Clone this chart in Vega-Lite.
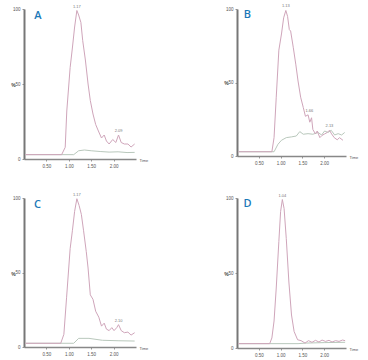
{
  "$schema": "https://vega.github.io/schema/vega-lite/v6.json",
  "background": "white",
  "padding": {"left": 10, "top": 4, "right": 5, "bottom": 2},
  "data": {"values": [
      {"p":"A","s":"m","t":0.03,"v":2.9},{"p":"A","s":"m","t":0.84,"v":2.9},{"p":"A","s":"m","t":0.92,"v":7.8},{"p":"A","s":"m","t":0.955,"v":32},{"p":"A","s":"m","t":1.03,"v":61},{"p":"A","s":"m","t":1.08,"v":74},{"p":"A","s":"m","t":1.13,"v":88},{"p":"A","s":"m","t":1.18,"v":99},{"p":"A","s":"m","t":1.22,"v":96},{"p":"A","s":"m","t":1.27,"v":91},{"p":"A","s":"m","t":1.31,"v":79},{"p":"A","s":"m","t":1.37,"v":66},{"p":"A","s":"m","t":1.43,"v":50},{"p":"A","s":"m","t":1.48,"v":39},{"p":"A","s":"m","t":1.54,"v":30},{"p":"A","s":"m","t":1.60,"v":23},{"p":"A","s":"m","t":1.67,"v":18},{"p":"A","s":"m","t":1.73,"v":14},{"p":"A","s":"m","t":1.79,"v":16},{"p":"A","s":"m","t":1.84,"v":12},{"p":"A","s":"m","t":1.90,"v":10},{"p":"A","s":"m","t":1.98,"v":13},{"p":"A","s":"m","t":2.05,"v":11},{"p":"A","s":"m","t":2.11,"v":16},{"p":"A","s":"m","t":2.17,"v":11},{"p":"A","s":"m","t":2.24,"v":10},{"p":"A","s":"m","t":2.32,"v":10},{"p":"A","s":"m","t":2.39,"v":8},{"p":"A","s":"m","t":2.47,"v":10},
      {"p":"A","s":"s","t":0.03,"v":2.9},{"p":"A","s":"s","t":1.11,"v":2.9},{"p":"A","s":"s","t":1.22,"v":5.5},{"p":"A","s":"s","t":1.35,"v":6},{"p":"A","s":"s","t":1.5,"v":5.5},{"p":"A","s":"s","t":1.7,"v":5},{"p":"A","s":"s","t":1.9,"v":4.6},{"p":"A","s":"s","t":2.1,"v":4.8},{"p":"A","s":"s","t":2.3,"v":4.3},{"p":"A","s":"s","t":2.47,"v":4.4},
      {"p":"B","s":"m","t":0.03,"v":2.9},{"p":"B","s":"m","t":0.80,"v":2.9},{"p":"B","s":"m","t":0.85,"v":12.5},{"p":"B","s":"m","t":0.90,"v":40},{"p":"B","s":"m","t":0.96,"v":72},{"p":"B","s":"m","t":1.02,"v":83},{"p":"B","s":"m","t":1.07,"v":94},{"p":"B","s":"m","t":1.12,"v":99},{"p":"B","s":"m","t":1.16,"v":95},{"p":"B","s":"m","t":1.20,"v":86},{"p":"B","s":"m","t":1.23,"v":85},{"p":"B","s":"m","t":1.29,"v":74},{"p":"B","s":"m","t":1.35,"v":62},{"p":"B","s":"m","t":1.40,"v":51},{"p":"B","s":"m","t":1.46,"v":40},{"p":"B","s":"m","t":1.52,"v":33},{"p":"B","s":"m","t":1.57,"v":27},{"p":"B","s":"m","t":1.63,"v":28},{"p":"B","s":"m","t":1.67,"v":23},{"p":"B","s":"m","t":1.71,"v":26},{"p":"B","s":"m","t":1.74,"v":18},{"p":"B","s":"m","t":1.80,"v":15},{"p":"B","s":"m","t":1.84,"v":17},{"p":"B","s":"m","t":1.90,"v":12.5},{"p":"B","s":"m","t":1.95,"v":14},{"p":"B","s":"m","t":2.01,"v":15},{"p":"B","s":"m","t":2.07,"v":16},{"p":"B","s":"m","t":2.12,"v":17.5},{"p":"B","s":"m","t":2.17,"v":15},{"p":"B","s":"m","t":2.23,"v":12.5},{"p":"B","s":"m","t":2.30,"v":11},{"p":"B","s":"m","t":2.35,"v":12.5},{"p":"B","s":"m","t":2.43,"v":10.7},
      {"p":"B","s":"s","t":0.03,"v":2.9},{"p":"B","s":"s","t":0.85,"v":2.9},{"p":"B","s":"s","t":0.94,"v":8},{"p":"B","s":"s","t":1.02,"v":10.7},{"p":"B","s":"s","t":1.13,"v":12.5},{"p":"B","s":"s","t":1.25,"v":13},{"p":"B","s":"s","t":1.36,"v":13.6},{"p":"B","s":"s","t":1.44,"v":16.6},{"p":"B","s":"s","t":1.52,"v":14.8},{"p":"B","s":"s","t":1.63,"v":15.2},{"p":"B","s":"s","t":1.74,"v":14.8},{"p":"B","s":"s","t":1.86,"v":16},{"p":"B","s":"s","t":1.94,"v":14.3},{"p":"B","s":"s","t":2.01,"v":17},{"p":"B","s":"s","t":2.09,"v":16},{"p":"B","s":"s","t":2.16,"v":17.5},{"p":"B","s":"s","t":2.24,"v":14.3},{"p":"B","s":"s","t":2.32,"v":15.2},{"p":"B","s":"s","t":2.40,"v":14.3},{"p":"B","s":"s","t":2.47,"v":16},
      {"p":"C","s":"m","t":0.03,"v":2.5},{"p":"C","s":"m","t":0.82,"v":2.5},{"p":"C","s":"m","t":0.89,"v":8.5},{"p":"C","s":"m","t":0.95,"v":33},{"p":"C","s":"m","t":1.03,"v":66},{"p":"C","s":"m","t":1.08,"v":78},{"p":"C","s":"m","t":1.13,"v":91},{"p":"C","s":"m","t":1.18,"v":99.5},{"p":"C","s":"m","t":1.23,"v":95},{"p":"C","s":"m","t":1.28,"v":89},{"p":"C","s":"m","t":1.33,"v":78},{"p":"C","s":"m","t":1.39,"v":64},{"p":"C","s":"m","t":1.43,"v":53},{"p":"C","s":"m","t":1.48,"v":35},{"p":"C","s":"m","t":1.54,"v":32},{"p":"C","s":"m","t":1.60,"v":24},{"p":"C","s":"m","t":1.67,"v":20},{"p":"C","s":"m","t":1.73,"v":14},{"p":"C","s":"m","t":1.79,"v":16},{"p":"C","s":"m","t":1.84,"v":12},{"p":"C","s":"m","t":1.90,"v":11},{"p":"C","s":"m","t":1.96,"v":13},{"p":"C","s":"m","t":2.01,"v":11},{"p":"C","s":"m","t":2.07,"v":13},{"p":"C","s":"m","t":2.11,"v":15},{"p":"C","s":"m","t":2.17,"v":11},{"p":"C","s":"m","t":2.24,"v":9.6},{"p":"C","s":"m","t":2.32,"v":10},{"p":"C","s":"m","t":2.39,"v":8},{"p":"C","s":"m","t":2.47,"v":9.6},
      {"p":"C","s":"s","t":0.03,"v":2.5},{"p":"C","s":"s","t":1.11,"v":2.5},{"p":"C","s":"s","t":1.22,"v":5.8},{"p":"C","s":"s","t":1.45,"v":5.8},{"p":"C","s":"s","t":1.75,"v":4.5},{"p":"C","s":"s","t":2.1,"v":4.2},{"p":"C","s":"s","t":2.47,"v":4},
      {"p":"D","s":"m","t":0.03,"v":2.9},{"p":"D","s":"m","t":0.75,"v":2.9},{"p":"D","s":"m","t":0.80,"v":6.7},{"p":"D","s":"m","t":0.85,"v":18},{"p":"D","s":"m","t":0.90,"v":40},{"p":"D","s":"m","t":0.96,"v":71},{"p":"D","s":"m","t":1.00,"v":91},{"p":"D","s":"m","t":1.04,"v":99},{"p":"D","s":"m","t":1.08,"v":93},{"p":"D","s":"m","t":1.13,"v":73},{"p":"D","s":"m","t":1.19,"v":44},{"p":"D","s":"m","t":1.25,"v":22},{"p":"D","s":"m","t":1.31,"v":11},{"p":"D","s":"m","t":1.39,"v":5.5},{"p":"D","s":"m","t":1.47,"v":4.9},{"p":"D","s":"m","t":1.56,"v":3.3},{"p":"D","s":"m","t":1.64,"v":4.9},{"p":"D","s":"m","t":1.72,"v":3.8},{"p":"D","s":"m","t":1.80,"v":5.1},{"p":"D","s":"m","t":1.88,"v":4},{"p":"D","s":"m","t":1.95,"v":5.3},{"p":"D","s":"m","t":2.03,"v":4.4},{"p":"D","s":"m","t":2.11,"v":5.1},{"p":"D","s":"m","t":2.18,"v":4},{"p":"D","s":"m","t":2.26,"v":4.9},{"p":"D","s":"m","t":2.34,"v":4.4},{"p":"D","s":"m","t":2.42,"v":5.3},{"p":"D","s":"m","t":2.48,"v":4.9},
      {"p":"D","s":"s","t":0.03,"v":2.9},{"p":"D","s":"s","t":1.40,"v":2.9},{"p":"D","s":"s","t":1.6,"v":3.3},{"p":"D","s":"s","t":2.0,"v":3.6},{"p":"D","s":"s","t":2.48,"v":3.8},
      {"p":"A","s":"pk","t":1.18,"v":99,"label":"1.17"},{"p":"A","s":"pk","t":2.11,"v":16,"label":"2.09"},
      {"p":"B","s":"pk","t":1.12,"v":99,"label":"1.13"},{"p":"B","s":"pk","t":1.66,"v":28,"label":"1.66"},{"p":"B","s":"pk","t":2.12,"v":17.5,"label":"2.13"},
      {"p":"C","s":"pk","t":1.18,"v":99.5,"label":"1.17"},{"p":"C","s":"pk","t":2.11,"v":15,"label":"2.10"},
      {"p":"D","s":"pk","t":1.04,"v":99,"label":"1.04"},
      {"p":"A","s":"lt","t":0.31,"v":95.5,"label":"A"},
      {"p":"B","s":"lt","t":0.24,"v":96,"label":"B"},
      {"p":"C","s":"lt","t":0.30,"v":95,"label":"C"},
      {"p":"D","s":"lt","t":0.24,"v":96,"label":"D"}
  ]},
  "columns": 2,
  "spacing": {"row": 39, "column": 101},
  "bounds": "flush",
  "concat": [
    {
      "transform": [{"filter": "datum.p === 'A'"}],
      "width": 112, "height": 150,
      "encoding": {
        "x": {"field": "t", "type": "quantitative", "scale": {"domain": [0, 2.5]}, "axis": {"values": [0.5, 1, 1.5, 2], "labelExpr": "format(datum.value, '.2f')", "labelOverlap": false, "title": "Time", "titleX": 115, "titleY": 1}},
        "y": {"field": "v", "type": "quantitative", "scale": {"domain": [0, 100]}, "axis": {"values": [0, 50, 100], "labelOverlap": false, "title": "%", "titleY": 75}}
      },
      "layer": [
        {"transform": [{"filter": "datum.s === 's'"}], "mark": {"type": "line", "color": "#b9c8bc", "strokeWidth": 1}},
        {"transform": [{"filter": "datum.s === 'm'"}], "mark": {"type": "line", "color": "#cfa5ba", "strokeWidth": 1}},
        {"transform": [{"filter": "datum.s === 'pk'"}], "mark": {"type": "text", "fontSize": 4, "color": "#777", "dy": -2, "baseline": "bottom"}, "encoding": {"text": {"field": "label"}}},
        {"transform": [{"filter": "datum.s === 'lt'"}], "mark": {"type": "text", "fontSize": 11, "font": "Open Sans", "fontWeight": 600, "color": "#1b78b8", "baseline": "middle", "align": "center"}, "encoding": {"text": {"field": "label"}}}
      ]
    },
    {
      "transform": [{"filter": "datum.p === 'B'"}],
      "width": 109, "height": 147,
      "encoding": {
        "x": {"field": "t", "type": "quantitative", "scale": {"domain": [0, 2.5]}, "axis": {"values": [0.5, 1, 1.5, 2], "labelExpr": "format(datum.value, '.2f')", "labelOverlap": false, "title": "Time", "titleX": 112, "titleY": 1}},
        "y": {"field": "v", "type": "quantitative", "scale": {"domain": [0, 100]}, "axis": {"values": [0, 50, 100], "labelOverlap": false, "title": "%", "titleY": 73}}
      },
      "layer": [
        {"transform": [{"filter": "datum.s === 's'"}], "mark": {"type": "line", "color": "#b9c8bc", "strokeWidth": 1}},
        {"transform": [{"filter": "datum.s === 'm'"}], "mark": {"type": "line", "color": "#cfa5ba", "strokeWidth": 1}},
        {"transform": [{"filter": "datum.s === 'pk'"}], "mark": {"type": "text", "fontSize": 4, "color": "#777", "dy": -2, "baseline": "bottom"}, "encoding": {"text": {"field": "label"}}},
        {"transform": [{"filter": "datum.s === 'lt'"}], "mark": {"type": "text", "fontSize": 11, "font": "Open Sans", "fontWeight": 600, "color": "#1b78b8", "baseline": "middle", "align": "center"}, "encoding": {"text": {"field": "label"}}}
      ]
    },
    {
      "transform": [{"filter": "datum.p === 'C'"}],
      "width": 112, "height": 149,
      "encoding": {
        "x": {"field": "t", "type": "quantitative", "scale": {"domain": [0, 2.5]}, "axis": {"values": [0.5, 1, 1.5, 2], "labelExpr": "format(datum.value, '.2f')", "labelOverlap": false, "title": "Time", "titleX": 115, "titleY": 1}},
        "y": {"field": "v", "type": "quantitative", "scale": {"domain": [0, 100]}, "axis": {"values": [0, 50, 100], "labelOverlap": false, "title": "%", "titleY": 75}}
      },
      "layer": [
        {"transform": [{"filter": "datum.s === 's'"}], "mark": {"type": "line", "color": "#b9c8bc", "strokeWidth": 1}},
        {"transform": [{"filter": "datum.s === 'm'"}], "mark": {"type": "line", "color": "#cfa5ba", "strokeWidth": 1}},
        {"transform": [{"filter": "datum.s === 'pk'"}], "mark": {"type": "text", "fontSize": 4, "color": "#777", "dy": -2, "baseline": "bottom"}, "encoding": {"text": {"field": "label"}}},
        {"transform": [{"filter": "datum.s === 'lt'"}], "mark": {"type": "text", "fontSize": 11, "font": "Open Sans", "fontWeight": 600, "color": "#1b78b8", "baseline": "middle", "align": "center"}, "encoding": {"text": {"field": "label"}}}
      ]
    },
    {
      "transform": [{"filter": "datum.p === 'D'"}],
      "width": 109, "height": 150,
      "encoding": {
        "x": {"field": "t", "type": "quantitative", "scale": {"domain": [0, 2.5]}, "axis": {"values": [0.5, 1, 1.5, 2], "labelExpr": "format(datum.value, '.2f')", "labelOverlap": false, "title": "Time", "titleX": 112, "titleY": 1}},
        "y": {"field": "v", "type": "quantitative", "scale": {"domain": [0, 100]}, "axis": {"values": [0, 50, 100], "labelOverlap": false, "title": "%", "titleY": 75}}
      },
      "layer": [
        {"transform": [{"filter": "datum.s === 's'"}], "mark": {"type": "line", "color": "#b9c8bc", "strokeWidth": 1}},
        {"transform": [{"filter": "datum.s === 'm'"}], "mark": {"type": "line", "color": "#cfa5ba", "strokeWidth": 1}},
        {"transform": [{"filter": "datum.s === 'pk'"}], "mark": {"type": "text", "fontSize": 4, "color": "#777", "dy": -2, "baseline": "bottom"}, "encoding": {"text": {"field": "label"}}},
        {"transform": [{"filter": "datum.s === 'lt'"}], "mark": {"type": "text", "fontSize": 11, "font": "Open Sans", "fontWeight": 600, "color": "#1b78b8", "baseline": "middle", "align": "center"}, "encoding": {"text": {"field": "label"}}}
      ]
    }
  ],
  "config": {
    "view": {"stroke": null},
    "axis": {"grid": false, "domainColor": "#888", "domainWidth": 1.5, "tickColor": "#999", "tickSize": 2, "labelFontSize": 4.5, "labelColor": "#555", "labelPadding": 2, "labelOverlap": false, "titleFontSize": 4, "titleFontWeight": "normal", "titleColor": "#555"},
    "axisX": {"titleAngle": 0, "titleAlign": "left", "titleBaseline": "middle"},
    "axisY": {"domainWidth": 2, "domainColor": "#777", "titleAngle": 0, "titleX": -11, "titleAlign": "center", "titleBaseline": "middle", "titleFontSize": 5, "titleFontWeight": "bold", "titleColor": "#444"}
  }
}
